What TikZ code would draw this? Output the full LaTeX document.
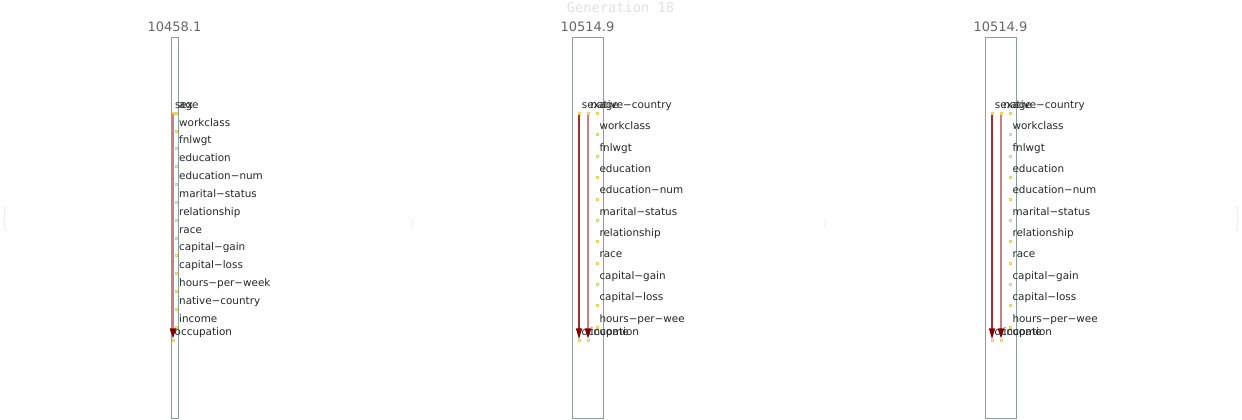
\documentclass[tikz,border=0pt]{standalone}
\usepackage{fontspec}
\setmainfont{DejaVu Sans}
\newfontfamily\monofont{DejaVu Sans Mono}
\usetikzlibrary{arrows.meta}
\definecolor{framec}{RGB}{138,158,156}
\definecolor{dotc}{RGB}{232,208,90}
\definecolor{palered}{RGB}{200,128,128}
\definecolor{deepred}{RGB}{165,45,45}
\definecolor{tipred}{RGB}{130,0,0}
\definecolor{titlec}{RGB}{102,102,102}
\definecolor{genc}{RGB}{225,225,225}
\definecolor{bracec}{RGB}{232,232,232}
\tikzset{
  frame/.style={draw=framec, line width=0.9pt},
  dot/.style={draw=dotc, fill=dotc!40, line width=0.5pt, minimum size=2pt, inner sep=0pt, rectangle},
  lbl/.style={anchor=base west, inner sep=0pt, font=\fontsize{10.4}{12}\selectfont, text=black!85},
  score/.style={font=\fontsize{13}{15}\selectfont, text=titlec, inner sep=0pt},
  link/.style={line width=#1, -{Triangle[width=6pt,length=11pt,color=tipred]}},
  brace/.style={draw=bracec, line width=0.8pt},
}
\begin{document}
\begin{tikzpicture}[x=1pt,y=-1pt]
\useasboundingbox (0,0) rectangle (1242,420);

% header
\node[font=\monofont\fontsize{13.7}{15}\selectfont, text=genc, inner sep=0pt] (gen) at (620.5,7.7) {Generation 18};

% faint group brackets
\draw[brace] (6.5,207) -- (4.7,207.5) -- (4.7,217.5) -- (3.3,218.7) -- (4.7,220) -- (4.7,229.5) -- (6.5,230);
\draw[brace] (1235.5,207) -- (1237.3,207.5) -- (1237.3,217.5) -- (1238.7,218.7) -- (1237.3,220) -- (1237.3,229.5) -- (1235.5,230);
\draw[brace] (411.5,219) .. controls (413.5,221) and (413.5,225) .. (411.5,227);
\draw[brace] (824.5,219) .. controls (826.5,221) and (826.5,225) .. (824.5,227);

% ---- panel 1 ----
\draw[frame] (171,37) rectangle (178,418);
\node[score] (s1) at (174.5,27) {10458.1};
\foreach \t [count=\i from 0] in {age,workclass,fnlwgt,education,education−num,marital−status,relationship,race,capital−gain,capital−loss,hours−per−week,native−country,income}{
  \node[dot] (p1d\i) at (176.5,113+\i*17.83) {};
  \node[lbl] (p1l\i) at (179,108.3+\i*17.83) {\t};
}
\node[dot] (p1top) at (173,113) {};
\node[dot] (p1bot) at (173,340.5) {};
\node[lbl] (p1sex) at (175,108.3) {sex};
\node[lbl] (p1occ) at (174.5,335.7) {occupation};
\draw[link=2.6pt, palered] (p1top) -- (p1bot);

% ---- panels 2 and 3 ----
\foreach \p/\ox/\sc in {2/0/10514.9,3/413/10514.9}{
  \begin{scope}[xshift=\ox pt]
    \draw[frame] (572,37) rectangle (603,418);
    \node[score] (s\p) at (587.5,27) {\sc};
    \begin{scope}
      \clip (560,30) rectangle (683,420);
      \foreach \t [count=\i from 0] in {age,workclass,fnlwgt,education,education−num,marital−status,relationship,race,capital−gain,capital−loss,hours−per−week}{
        \node[dot] (p\p d\i) at (596.8,113.3+\i*21.37) {};
        \node[lbl] (p\p l\i) at (599.3,108.3+\i*21.37) {\t};
      }
    \end{scope}
    \node[dot] (p\p atop) at (579,113.3) {};
    \node[dot] (p\p abot) at (579,340.5) {};
    \node[dot] (p\p btop) at (588,113.3) {};
    \node[dot] (p\p bbot) at (588,340.5) {};
    \node[lbl] (p\p sex) at (581.7,108.3) {sex};
    \node[lbl] (p\p nat) at (590.5,108.3) {native−country};
    \node[lbl] (p\p occ) at (581.5,335.3) {occupation};
    \node[lbl] (p\p inc) at (590.5,335.3) {income};
    \draw[link=1.7pt, deepred] (p\p atop) -- (p\p abot);
    \draw[link=2.6pt, palered] (p\p btop) -- (p\p bbot);
  \end{scope}
}
\end{tikzpicture}
\end{document}
